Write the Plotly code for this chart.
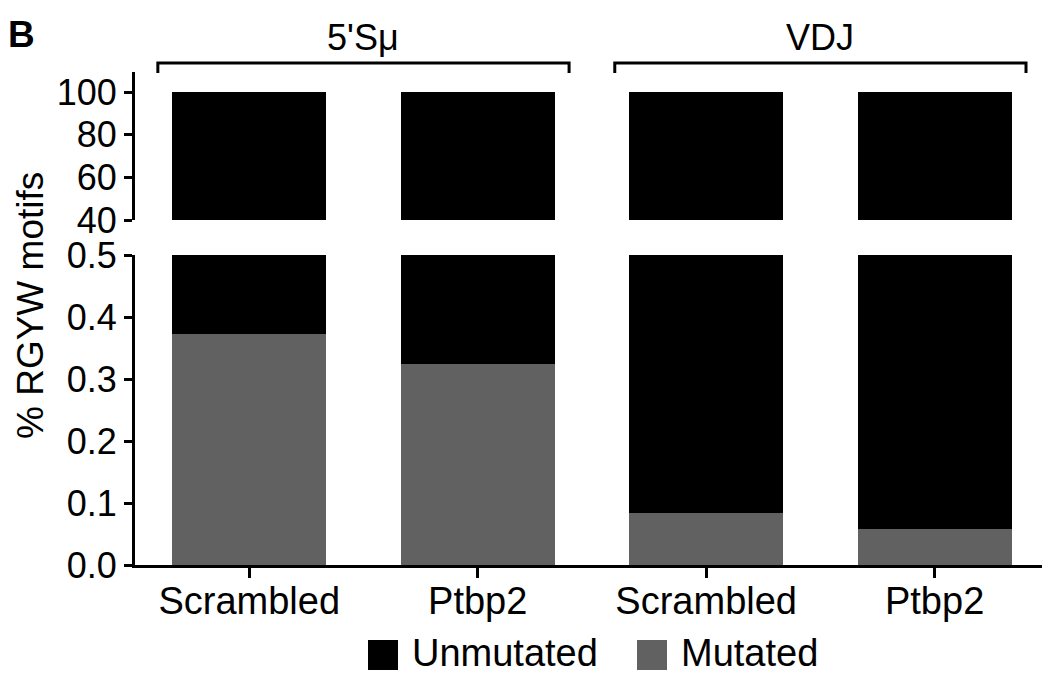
import plotly.graph_objects as go

# Data: percent of RGYW motifs mutated / unmutated per condition
categories = ["Scrambled", "Ptbp2", "Scrambled ", "Ptbp2 "]
tick_labels = ["Scrambled", "Ptbp2", "Scrambled", "Ptbp2"]
groups = ["5'Sμ", "VDJ"]
mutated = [0.372, 0.325, 0.084, 0.058]
unmutated = [100 - m for m in mutated]
series_names = ["Unmutated", "Mutated"]

BLACK = "#000000"
GRAY = "#616161"
FONT = "Liberation Sans, Arial, Helvetica, sans-serif"

W, H = 1042, 674
ML, MR, MT, MB = 135, 0, 72, 109
plot_h = H - MT - MB
plot_w = W - ML - MR

x_idx = list(range(len(categories)))

fig = go.Figure()
# bottom panel (0 - 0.5) on y2, top panel (40 - 100) on y
for yax, xax in (("y", "x2"), ("y2", "x")):
    fig.add_trace(go.Bar(x=x_idx, y=mutated, name=series_names[1], marker=dict(color=GRAY, line_width=0),
                         xaxis=xax, yaxis=yax, showlegend=False))
    fig.add_trace(go.Bar(x=x_idx, y=unmutated, name=series_names[0], marker=dict(color=BLACK, line_width=0),
                         xaxis=xax, yaxis=yax, showlegend=False))

xrange = [-0.5, 3.47]
axis_common = dict(showline=True, linecolor="black", linewidth=3, ticks="outside", tickwidth=3,
                   tickcolor="black", showgrid=False, zeroline=False,
                   tickfont=dict(family=FONT, size=36, color="black"))

fig.update_layout(
    width=W, height=H,
    margin=dict(l=ML, r=MR, t=MT, b=MB),
    paper_bgcolor="white", plot_bgcolor="white",
    barmode="stack", bargap=0.326,
    showlegend=False,
    font=dict(family=FONT, color="black"),
    xaxis=dict(domain=[0, 1], range=xrange, anchor="y2", tickmode="array", tickvals=x_idx,
               ticktext=tick_labels, showline=True, linecolor="black", linewidth=3,
               ticks="outside", ticklen=10, tickwidth=3, tickcolor="black", showgrid=False,
               ticklabelstandoff=-10,
               zeroline=False, tickfont=dict(family=FONT, size=38, color="black")),
    xaxis2=dict(domain=[0, 1], range=xrange, anchor="y", visible=False, matches="x"),
    yaxis=dict(domain=[(565 - 220) / plot_h, 1], range=[40, 109.4], tickvals=[40, 60, 80, 100],
               ticklen=8, anchor="x2", **axis_common),
    yaxis2=dict(domain=[0, (565 - 255) / plot_h], range=[0, 0.5], tickvals=[0, 0.1, 0.2, 0.3, 0.4, 0.5],
                ticktext=["0.0", "0.1", "0.2", "0.3", "0.4", "0.5"], ticklen=8, anchor="x", **axis_common),
)

shapes = []
annotations = []

# group brackets above the bars
for gi, label in enumerate(groups):
    c = 2 * gi + 0.5
    x0, x1 = c - 0.9, c + 0.9
    ytop = 1 + 9 / plot_h
    ybot = 1 - 1 / plot_h
    shapes.append(dict(type="path", xref="x", yref="paper",
                       path=f"M {x0},{ybot} L {x0},{ytop} L {x1},{ytop} L {x1},{ybot}",
                       line=dict(color="black", width=3)))
    annotations.append(dict(x=c, y=(565 - 37) / plot_h, xref="x", yref="paper", text=label,
                            showarrow=False, font=dict(family=FONT, size=36, color="black"),
                            xanchor="center", yanchor="middle"))

# panel letter
annotations.append(dict(x=(6 - ML) / plot_w, y=(565 - 34) / plot_h, xref="paper", yref="paper",
                        text="<b>B</b>", showarrow=False, xanchor="left", yanchor="middle",
                        font=dict(family=FONT, size=37, color="black")))

# y-axis title spanning both panels
annotations.append(dict(x=(30 - ML) / plot_w, y=(565 - 306) / plot_h, xref="paper", yref="paper",
                        text="% RGYW motifs", textangle=-90, showarrow=False,
                        xanchor="center", yanchor="middle",
                        font=dict(family=FONT, size=37, color="black")))

# legend: coloured squares with labels
legend_items = [(series_names[0], BLACK, 368), (series_names[1], GRAY, 637)]
for name, color, px in legend_items:
    x0 = (px - ML) / plot_w
    x1 = (px + 30 - ML) / plot_w
    y0 = (565 - 670) / plot_h
    y1 = (565 - 640) / plot_h
    shapes.append(dict(type="rect", xref="paper", yref="paper", x0=x0, x1=x1, y0=y0, y1=y1,
                       fillcolor=color, line=dict(width=0)))
    annotations.append(dict(x=(px + 42 - ML) / plot_w, y=(565 - 653) / plot_h,
                            xref="paper", yref="paper", text=name, showarrow=False,
                            xanchor="left", yanchor="middle",
                            font=dict(family=FONT, size=38, color="black")))

fig.update_layout(shapes=shapes, annotations=annotations)

fig.write_html("out.html")
